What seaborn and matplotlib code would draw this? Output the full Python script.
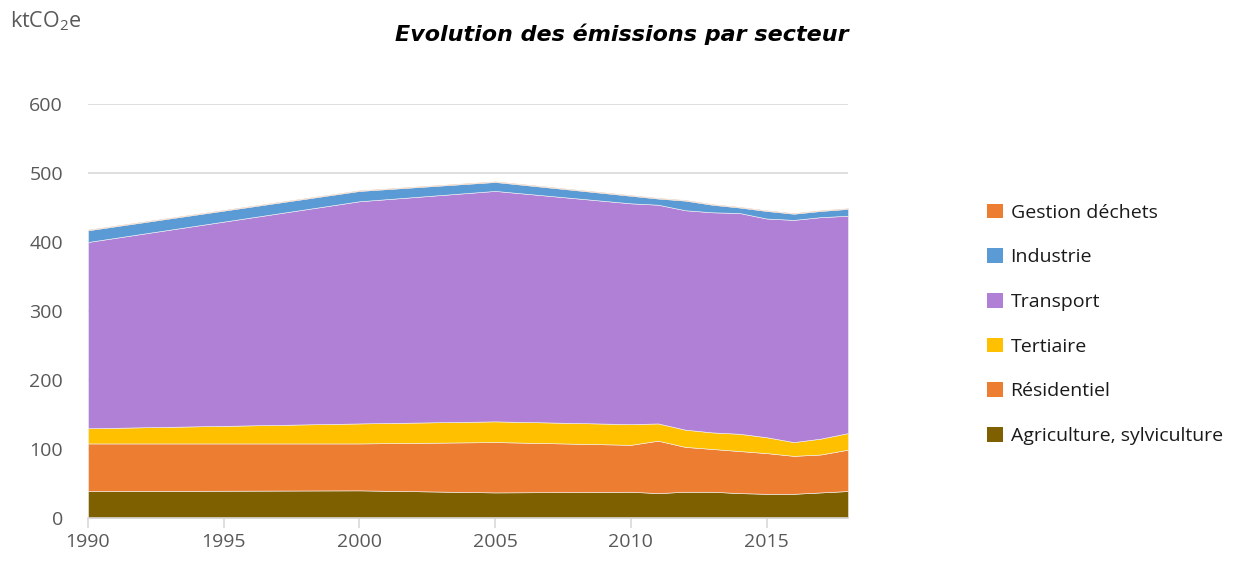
import numpy as np
import pandas as pd
import matplotlib
matplotlib.use("Agg")
import matplotlib.pyplot as plt
import seaborn as sns
from matplotlib.patches import Patch

years = [1990, 2000, 2005, 2010, 2011, 2012, 2013, 2014, 2015, 2016, 2017, 2018]
agriculture = [39, 40, 37, 38, 36, 38, 38, 36, 35, 35, 37, 39]
residentiel = [69, 68, 73, 68, 76, 65, 62, 61, 59, 55, 55, 60]
tertiaire = [22, 29, 30, 30, 25, 25, 24, 25, 23, 20, 23, 24]
transport = [270, 322, 334, 320, 317, 318, 319, 320, 317, 322, 321, 315]
industrie = [17, 15, 13, 11, 9, 14, 11, 8, 11, 9, 9, 10]
dechets = [1, 1, 1, 1, 1, 1, 1, 1, 1, 1, 1, 1]

sectors = ["Agriculture, sylviculture", "Résidentiel", "Tertiaire",
           "Transport", "Industrie", "Gestion déchets"]
colors = ["#7F6000", "#ED7D31", "#FFC000", "#B07FD6", "#5B9BD5", "#ED7D31"]

df = pd.DataFrame({
    "annee": years,
    sectors[0]: agriculture,
    sectors[1]: residentiel,
    sectors[2]: tertiaire,
    sectors[3]: transport,
    sectors[4]: industrie,
    sectors[5]: dechets,
})

sns.set_theme(style="white")
plt.rcParams["font.family"] = ["Open Sans", "DejaVu Sans"]

fig = plt.figure(figsize=(12.48, 5.63), dpi=100)
ax = fig.add_axes([0.0705, 0.08, 0.609, 0.7353])

ax.stackplot(df["annee"], [df[s] for s in sectors], colors=colors,
             linewidth=0.4, edgecolor="#F2F2F2", alpha=1)

ax.set_xlim(1990, 2018)
ax.set_ylim(0, 600)
ax.set_yticks(range(0, 601, 100))
ax.set_xticks(range(1990, 2016, 5))
ax.yaxis.grid(True, color="#D9D9D9", linewidth=1.2)
ax.set_axisbelow(True)
sns.despine(ax=ax, left=True)
ax.spines["bottom"].set_color("#D9D9D9")
ax.spines["bottom"].set_linewidth(1.2)
ax.tick_params(axis="x", direction="out", length=7, width=1.2, color="#D9D9D9",
               labelsize=14, labelcolor="#595959", bottom=True)
ax.tick_params(axis="y", length=0, labelsize=14, labelcolor="#595959", pad=18)

fig.text(0.008, 0.962, "ktCO$_\\mathregular{2}$e", fontsize=15.5, color="#595959", va="center")
fig.text(0.68, 0.94, "Evolution des émissions par secteur", fontsize=16,
         fontweight="bold", fontstyle="italic", ha="right", va="center",
         family=["DejaVu Sans"], color="black")

handles = [Patch(facecolor=c, edgecolor="none") for c in colors][::-1]
labels = sectors[::-1]
leg = fig.legend(handles, labels, loc="center left", bbox_to_anchor=(0.777, 0.424),
                 frameon=False, fontsize=14, handlelength=0.8, handleheight=0.8,
                 handletextpad=0.4, labelspacing=1.36)
for t in leg.get_texts():
    t.set_color("#1A1A1A")

fig.savefig("out.png", dpi=100)
